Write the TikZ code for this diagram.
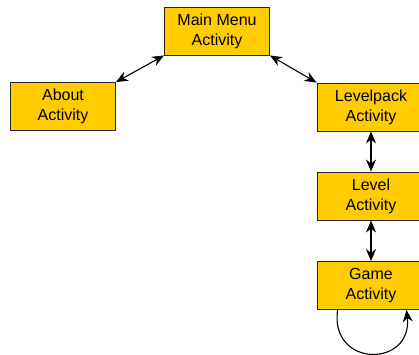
\documentclass[tikz,border=0pt]{standalone}
\usepackage{fontspec}
\setmainfont{Liberation Sans}
\usetikzlibrary{arrows.meta,calc}
\begin{document}
\begin{tikzpicture}[x=1pt,y=-1pt,
  activity/.style={draw=black!85, line width=0.9pt, fill=actyellow,
    minimum width=105pt, minimum height=48pt, inner sep=0pt, align=center,
    font=\fontsize{16}{20}\selectfont},
  link/.style={line width=1.1pt, {Stealth[length=12pt,width=10pt]}-{Stealth[length=12pt,width=10pt]}},
  loop/.style={line width=1.1pt, -{Stealth[length=12pt,width=10pt]}}]
\definecolor{actyellow}{HTML}{FFCC00}
\useasboundingbox (0,0) rectangle (419,354);
\node[activity] (main) at (217,31) {Main Menu\\Activity};
\node[activity] (about) at (63,106.5) {About\\Activity};
\node[activity, minimum width=108pt] (pack) at (371,107) {Levelpack\\Activity};
\node[activity, minimum width=108pt] (level) at (371,196) {Level\\Activity};
\node[activity, minimum width=108pt] (game) at (371,285.5) {Game\\Activity};
\draw[link] (main.south west) -- (about.north east);
\draw[link] (main.south east) -- (pack.north west);
\draw[link] (pack.south) -- (level.north);
\draw[link] (level.south) -- (game.north);
\coordinate (loopstart) at ($(game.south west)+(21,0)$);
\coordinate (loopend) at ($(game.south west)+(90,0)$);
\draw[loop] (loopstart) .. controls ($(loopstart)+(-8,58)$) and ($(loopend)+(6,58)$) .. (loopend);
\end{tikzpicture}
\end{document}
